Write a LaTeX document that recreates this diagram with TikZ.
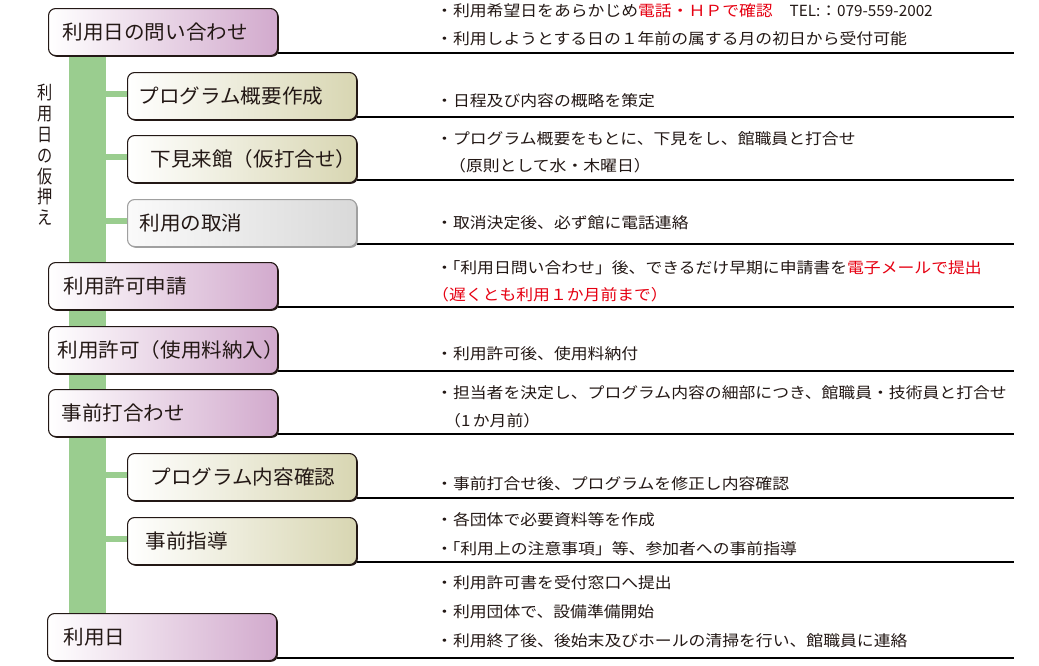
\documentclass[tikz,border=0pt]{standalone}
\usepackage{fontspec}
\setmainfont{Noto Sans CJK JP}
\newfontfamily\boxfont[FakeStretch=1.04]{Noto Sans CJK JP}
\newfontfamily\rtfont[FakeStretch=1.1]{Noto Sans CJK JP}
\newfontfamily\vtfont[FakeStretch=0.82]{Noto Sans CJK JP}
\newfontfamily\plainfont{Noto Sans CJK JP}
\usetikzlibrary{shadows,backgrounds}
\definecolor{boxline}{RGB}{35,24,21}
\definecolor{txt}{RGB}{35,24,21}
\definecolor{stagepurple}{RGB}{210,170,205}
\definecolor{subolive}{RGB}{216,214,178}
\definecolor{offline}{RGB}{160,160,160}
\definecolor{offleft}{RGB}{250,250,250}
\definecolor{offright}{RGB}{217,217,217}
\definecolor{barcol}{RGB}{154,205,143}
\definecolor{alert}{RGB}{230,0,18}
\tikzset{
  boxcore/.style={rectangle, rounded corners=7pt, line width=1.1pt,
    anchor=north west, minimum height=47pt, align=left, inner ysep=0pt,
    text=txt, font=\boxfont\fontsize{19.8pt}{24pt}\selectfont},
  mainbox/.style={boxcore, draw=boxline, left color=white, right color=stagepurple,
    drop shadow={shadow xshift=1.3pt, shadow yshift=-1.3pt, opacity=1, fill=boxline}},
  subbox/.style={boxcore, draw=boxline, left color=white, right color=subolive,
    drop shadow={shadow xshift=1.3pt, shadow yshift=-1.3pt, opacity=1, fill=boxline}},
  offbox/.style={boxcore, draw=offline, left color=offleft, right color=offright,
    drop shadow={shadow xshift=1.3pt, shadow yshift=-1.3pt, opacity=1, fill=offline}},
  rt/.style={anchor=base west, inner sep=0pt, text=txt,
    font=\rtfont\fontsize{15.3pt}{18pt}\selectfont},
  vlabel/.style={align=center, inner sep=0pt, text=txt,
    font=\vtfont\fontsize{18.5pt}{20.8pt}\selectfont},
  rule/.style={draw=black, line width=1.3pt},
  greenbar/.style={draw=barcol, line width=37pt},
  branch/.style={draw=barcol, line width=6pt},
}
\begin{document}
\begin{tikzpicture}[x=1pt, y=-1pt]
\useasboundingbox (0,0) rectangle (1039,665);

% main stages
\node[mainbox, inner xsep=14pt, text width=201pt] (m1) at (48,8) {利用日の問い合わせ};
\node[mainbox, inner xsep=15pt, text width=199pt] (m2) at (48,262) {利用許可申請};
\node[mainbox, inner xsep=9pt, text width=211pt] (m3) at (48,326) {利用許可（使用料納入）};
\node[mainbox, inner xsep=13pt, text width=203pt] (m4) at (48,389) {事前打合わせ};
\node[mainbox, inner xsep=16pt, text width=197pt] (m5) at (47,613) {利用日};

% sub steps
\node[subbox, inner xsep=11pt, text width=207pt] (s1) at (127,72) {プログラム概要作成};
\node[subbox, inner xsep=23pt, text width=183pt] (s2) at (127,135) {下見来館（仮打合せ）};
\node[offbox, inner xsep=12pt, text width=205pt] (s3) at (127,199) {利用の取消};
\node[subbox, inner xsep=23pt, text width=183pt] (s4) at (127,453) {プログラム内容確認};
\node[subbox, inner xsep=18pt, text width=193pt] (s5) at (127,517) {事前指導};

% vertical label
\node[vlabel] (vl) at (45,155) {利\\用\\日\\の\\仮\\押\\え};

% helper coordinates
\coordinate (barx) at (87.5,0);
\coordinate (rend) at (1014,0);
\foreach \n in {m1,m2,m3,m4,m5,s1,s2,s3,s4,s5}{
  \path ([yshift=3pt]\n.south east) coordinate (k\n);
}
\foreach \n in {s1,s2,s3,s4,s5}{
  \path ([yshift=2pt]\n.west) coordinate (j\n);
}

\begin{scope}[on background layer]
  \fill[white] (0,0) rectangle (1039,665);
  \draw[greenbar] (m1.south -| barx) -- (m5.north -| barx);
  \foreach \n in {s1,s2,s3,s4,s5}{
    \draw[branch] (j\n -| barx) -- (j\n);
  }
  \foreach \n in {m1,m2,m3,m4,m5,s1,s2,s3,s4,s5}{
    \draw[rule] (k\n) -- (k\n -| rend);
  }
\end{scope}

% right-hand notes
\node[rt] (r1a) at (436,16) {・利用希望日をあらかじめ\textcolor{alert}{電話・ＨＰで確認}　{\plainfont\fontsize{15.3pt}{18pt}\selectfont TEL:}：{\plainfont\fontsize{15.3pt}{18pt}\selectfont 079-559-2002}};
\node[rt] (r1b) at (436,44) {・利用しようとする日の１年前の属する月の初日から受付可能};
\node[rt] (r2) at (436,106) {・日程及び内容の概略を策定};
\node[rt] (r3a) at (436,144) {・プログラム概要をもとに、下見をし、館職員と打合せ};
\node[rt] (r3b) at (449,171) {（原則として水・木曜日）};
\node[rt] (r4) at (436,228) {・取消決定後、必ず館に電話連絡};
\node[rt] (r5a) at (436,273) {・\kern-9.5pt「利用日問い合わせ」後、できるだけ早期に申請書を\textcolor{alert}{電子メールで提出}};
\node[rt, text=alert] (r5b) at (432,300) {（遅くとも利用１か月前まで）};
\node[rt] (r6) at (436,359) {・利用許可後、使用料納付};
\node[rt] (r7a) at (436,398) {・担当者を決定し、プログラム内容の細部につき、館職員・技術員と打合せ};
\node[rt] (r7b) at (444,426) {（1\,か月前）};
\node[rt] (r8) at (436,489) {・事前打合せ後、プログラムを修正し内容確認};
\node[rt] (r9a) at (436,525) {・各団体で必要資料等を作成};
\node[rt] (r9b) at (436,554) {・\kern-9.5pt「利用上の注意事項」等、参加者への事前指導};
\node[rt] (r10a) at (436,588) {・利用許可書を受付窓口へ提出};
\node[rt] (r10b) at (436,617) {・利用団体で、設備準備開始};
\node[rt] (r10c) at (436,646) {・利用終了後、後始末及びホールの清掃を行い、館職員に連絡};
\end{tikzpicture}
\end{document}
